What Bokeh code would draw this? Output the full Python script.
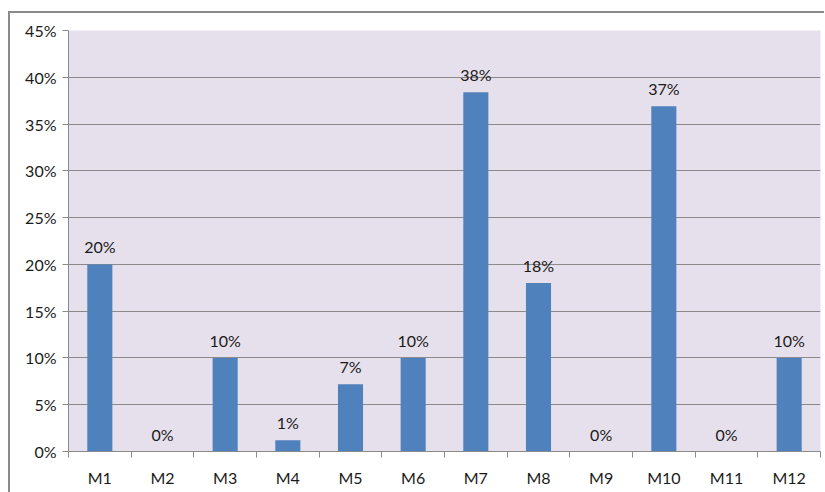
from bokeh.plotting import figure
from bokeh.models import ColumnDataSource, FixedTicker, NumeralTickFormatter, Range1d
from bokeh.core.properties import value
from bokeh.embed import file_html
from bokeh.resources import INLINE

months = ["M1", "M2", "M3", "M4", "M5", "M6", "M7", "M8", "M9", "M10", "M11", "M12"]
shares = [0.20, 0.0, 0.10, 0.012, 0.072, 0.10, 0.384, 0.18, 0.0, 0.369, 0.0, 0.10]
labels = ["20%", "0%", "10%", "1%", "7%", "10%", "38%", "18%", "0%", "37%", "0%", "10%"]
y_ticks = [0, 0.05, 0.10, 0.15, 0.20, 0.25, 0.30, 0.35, 0.40, 0.45]

xs = list(range(1, len(months) + 1))
src = ColumnDataSource(dict(x=xs, y=shares, label=labels, month=months))

p = figure(width=816, height=481, output_backend="svg", toolbar_location=None,
           x_range=Range1d(0.5, len(months) + 0.5), y_range=Range1d(0, 0.45),
           min_border_left=58, min_border_right=6, min_border_top=17, min_border_bottom=43)
p.margin = (11, 0, 0, 8)
p.styles = {"border-left": "2px solid #8a8a8a", "border-top": "2px solid #8a8a8a"}

p.background_fill_color = "#E6E0EC"
p.border_fill_color = "white"
p.outline_line_color = None

p.vbar(x="x", top="y", width=0.4, source=src, fill_color="#4F81BD", line_color=None)
p.text(x="x", y="y", text="label", source=src, text_align="center", text_baseline="bottom",
       y_offset=-8, text_font=value("Lato"), text_font_size="16px", text_color="#1a1a1a")

# y axis
p.yaxis.ticker = FixedTicker(ticks=y_ticks)
p.yaxis.formatter = NumeralTickFormatter(format="0%")
p.yaxis.major_label_text_font = "Lato"
p.yaxis.major_label_text_font_size = "16px"
p.yaxis.major_label_text_color = "#1a1a1a"
p.yaxis.axis_line_color = "#8a8a8a"
p.yaxis.major_tick_line_color = "#8a8a8a"
p.yaxis.major_tick_out = 6
p.yaxis.major_tick_in = 0
p.yaxis.minor_tick_line_color = None
p.yaxis.major_label_standoff = 6

# x axis
p.xaxis.ticker = FixedTicker(ticks=xs, minor_ticks=[i + 0.5 for i in range(len(months) + 1)])
p.xaxis.major_label_overrides = {x: m for x, m in zip(xs, months)}
p.xaxis.major_label_text_font = "Lato"
p.xaxis.major_label_text_font_size = "16px"
p.xaxis.major_label_text_color = "#1a1a1a"
p.xaxis.axis_line_color = "#8a8a8a"
p.xaxis.major_tick_line_color = None
p.xaxis.minor_tick_line_color = "#8a8a8a"
p.xaxis.minor_tick_out = 6
p.xaxis.minor_tick_in = 0
p.xaxis.major_label_standoff = 10

p.xgrid.grid_line_color = None
p.ygrid.grid_line_color = "#8a8a8a"
p.ygrid.grid_line_width = 1

open("out.html", "w").write(file_html(p, INLINE))
